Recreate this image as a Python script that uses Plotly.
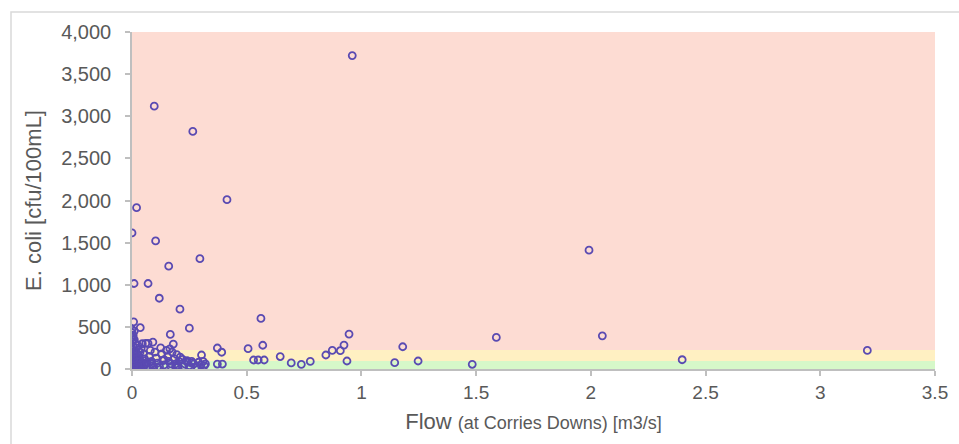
import plotly.graph_objects as go

# Flow (m3/s) and E. coli (cfu/100mL) samples
flow = [
    0.96, 0.097, 0.265, 0.414, 0.02, 0.0, 0.103, 0.16, 0.296, 0.009, 0.07, 0.119, 0.209, 0.25,
    0.562, 0.036, 0.007, 0.167, 1.992,
    0.946, 2.05, 1.588, 0.924, 1.18, 0.873, 0.908, 3.205, 0.845, 2.398, 0.937, 1.247, 0.777,
    1.145, 0.738, 1.483, 0.694, 0.646, 0.57, 0.506, 0.53, 0.55, 0.576, 0.372, 0.391, 0.372, 0.394,
    0.0, 0.005, 0.002, 0.01, 0.0, 0.015, 0.005, 0.02, 0.0, 0.01, 0.003, 0.012, 0.0, 0.018, 0.006,
    0.0, 0.014, 0.004, 0.008, 0.0, 0.016, 0.002, 0.01, 0.02, 0.025, 0.03, 0.028, 0.035, 0.04,
    0.03, 0.04,
    0.045, 0.06, 0.07, 0.091, 0.05, 0.055, 0.06, 0.065, 0.075, 0.08, 0.085, 0.09, 0.1, 0.105,
    0.11, 0.12, 0.125, 0.13, 0.135, 0.14, 0.15, 0.155, 0.16, 0.165, 0.17, 0.175, 0.18, 0.185,
    0.19, 0.195, 0.2, 0.205, 0.21, 0.22, 0.23, 0.24, 0.25, 0.26, 0.27, 0.28, 0.29, 0.3, 0.303,
    0.31, 0.32, 0.24, 0.2,
    0.01, 0.02, 0.03, 0.04, 0.05, 0.012, 0.022, 0.045, 0.055, 0.065, 0.075, 0.085, 0.095, 0.033,
    0.008, 0.015, 0.025, 0.005, 0.01, 0.0, 0.11, 0.14, 0.17, 0.19, 0.225, 0.26, 0.285, 0.315,
]
ecoli = [
    3720, 3120, 2820, 2010, 1915, 1615, 1520, 1220, 1310, 1015, 1015, 840, 710, 485,
    600, 490, 560, 410, 1410,
    414, 394, 375, 284, 264, 221, 217, 221, 166, 110, 95, 95, 90,
    75, 55, 56, 72, 148, 282, 241, 107, 107, 107, 249, 199, 59, 59,
    430, 400, 380, 350, 320, 300, 270, 250, 230, 210, 190, 170, 150, 130, 110,
    90, 75, 60, 45, 30, 20, 10, 5, 40, 70, 100, 160, 200, 240,
    20, 50,
    300, 305, 305, 320, 180, 120, 60, 30, 150, 220, 90, 40, 200, 130,
    70, 30, 250, 180, 100, 50, 220, 150, 90, 240, 30, 200, 296, 120,
    60, 170, 20, 90, 140, 115, 60, 80, 40, 90, 60, 30, 80, 50, 166,
    90, 60, 100, 40,
    15, 25, 35, 10, 20, 55, 85, 75, 45, 80, 15, 60, 25, 130,
    120, 200, 280, 340, 450, 470, 20, 110, 60, 25, 35, 70, 20, 40,
]

# Guideline bands (cfu/100mL): green / amber / red
band_edges = [0, 95, 225, 4000]
band_colors = ["#d6f8c9", "#fff0c2", "#fddcd3"]

x_ticks = [0, 0.5, 1, 1.5, 2, 2.5, 3, 3.5]
x_tick_labels = ["0", "0.5", "1", "1.5", "2", "2.5", "3", "3.5"]
y_ticks = [0, 500, 1000, 1500, 2000, 2500, 3000, 3500, 4000]

fig = go.Figure()
fig.add_trace(go.Scatter(
    x=flow, y=ecoli, mode="markers",
    marker=dict(symbol="circle-open", size=7, color="#5a4ab2", line=dict(width=1.8, color="#5a4ab2")),
    showlegend=False, hoverinfo="x+y",
))

shapes = []
for i, col in enumerate(band_colors):
    shapes.append(dict(type="rect", xref="x", yref="y", x0=0, x1=3.5,
                       y0=band_edges[i], y1=band_edges[i + 1],
                       fillcolor=col, line=dict(width=0), layer="below"))
# outer chart border
shapes.append(dict(type="rect", xref="paper", yref="paper",
                   x0=(11 - 132) / 803, x1=(975 - 132) / 803,
                   y0=-(470 - 369) / 337, y1=1 + (32 - 12) / 337,
                   line=dict(color="#d9d9d9", width=1.5), fillcolor="rgba(0,0,0,0)", layer="below"))

font_fam = "Liberation Sans, Arial, sans-serif"
fig.update_layout(
    width=959, height=444,
    margin=dict(l=132, r=24, t=32, b=75),
    paper_bgcolor="white", plot_bgcolor="white",
    shapes=shapes,
    font=dict(family=font_fam, color="#595959", size=19),
    xaxis=dict(
        range=[0, 3.5], tickvals=x_ticks, ticktext=x_tick_labels,
        showgrid=False, zeroline=False, showline=True, linecolor="#bfbfbf", linewidth=1.5,
        ticks="outside", ticklen=5, tickcolor="#bfbfbf", tickwidth=1.5,
        tickfont=dict(size=19, color="#595959"),
        title=dict(text="Flow <span style='font-size:18px'>(at Corries Downs) [m3/s]</span>",
                   font=dict(size=22, color="#595959"), standoff=12),
    ),
    yaxis=dict(
        range=[0, 4000], tickvals=y_ticks, tickformat=",",
        showgrid=False, zeroline=False, showline=True, linecolor="#bfbfbf", linewidth=1.5,
        ticks="outside", ticklen=5, tickcolor="#bfbfbf", tickwidth=1.5,
        ticklabelstandoff=10,
        tickfont=dict(size=20, color="#595959"),
        title=dict(text="E. coli [cfu/100mL]", font=dict(size=22, color="#595959"), standoff=13),
    ),
)

fig.write_html("out.html")
